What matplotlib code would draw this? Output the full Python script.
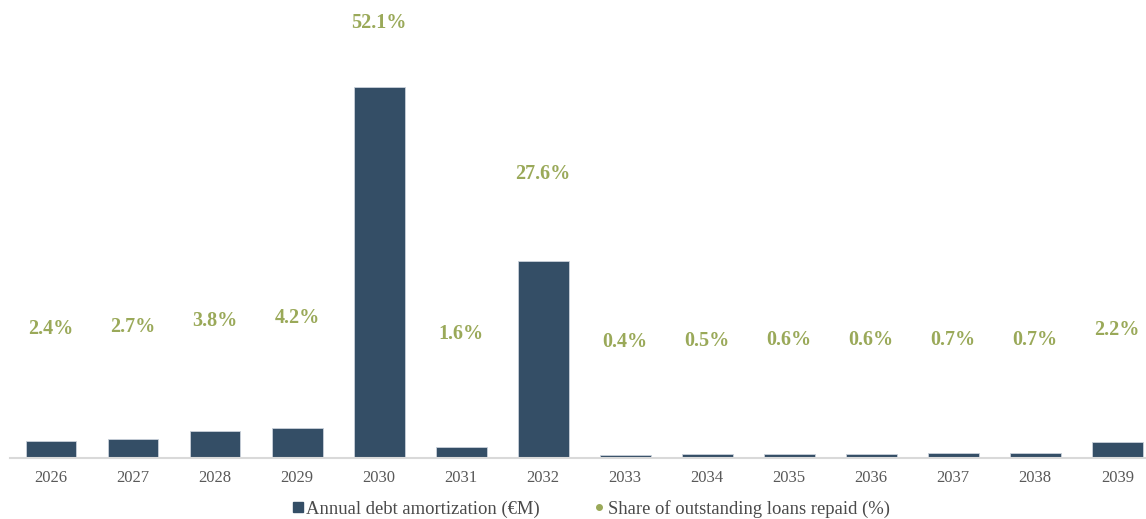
import matplotlib.pyplot as plt
from matplotlib.lines import Line2D

years = ['2026', '2027', '2028', '2029', '2030', '2031', '2032',
         '2033', '2034', '2035', '2036', '2037', '2038', '2039']
# annual amortization in EUR millions
amortization = [24, 27, 38, 42, 521, 16, 276, 4, 5, 6, 6, 7, 7, 22]
# share of outstanding loans repaid each year (%)
share_repaid = [2.4, 2.7, 3.8, 4.2, 52.1, 1.6, 27.6, 0.4, 0.5, 0.6, 0.6, 0.7, 0.7, 2.2]

bar_color = '#344e66'
green = '#9aa959'
grey_text = '#595959'

plt.rcParams['font.family'] = ['Liberation Serif', 'DejaVu Serif']

fig = plt.figure(figsize=(11.46, 5.19), dpi=100)
ax = fig.add_axes([10 / 1146, 61 / 519, 1136 / 1146, 448 / 519])

x = list(range(len(years)))
ax.bar(x, amortization, width=0.62, color=bar_color, edgecolor='#c9d1da',
       linewidth=0.6, zorder=2)
ax.set_xlim(-0.5, 13.35)
ax.set_ylim(0, 521 * 448 / 371)

ax.set_xticks(x)
ax.set_xticklabels(years, fontsize=12, color=grey_text)
ax.tick_params(axis='x', length=0, pad=9)
ax.set_yticks([])
for side in ['top', 'right', 'left']:
    ax.spines[side].set_visible(False)
ax.spines['bottom'].set_color('#d9d9d9')
ax.spines['bottom'].set_linewidth(1.5)

# secondary axis carries the share labels
ax2 = ax.twinx()
ax2.set_ylim(-18.5, 54.2)
ax2.axis('off')
ax2.plot(x, share_repaid, linestyle='none', marker='o', markersize=0)
for xi, v in zip(x, share_repaid):
    ax2.text(xi, v, f'{v:.1f}%', ha='center', va='center', fontsize=14.5,
             fontweight='bold', color=green)

handles = [
    Line2D([], [], linestyle='none', marker='s', markersize=7, color=bar_color),
    Line2D([], [], linestyle='none', marker='o', markersize=4, color=green),
]
labels = ['Annual debt amortization (€M)', 'Share of outstanding loans repaid (%)']
fig.legend(handles, labels, loc='center', bbox_to_anchor=(590 / 1146, 1 - 509 / 519),
           ncol=2, frameon=False, fontsize=13.4, labelcolor='#4a4a4a',
           handletextpad=0.05, columnspacing=2.8, handlelength=0.8)

fig.savefig('out.png', dpi=100)
